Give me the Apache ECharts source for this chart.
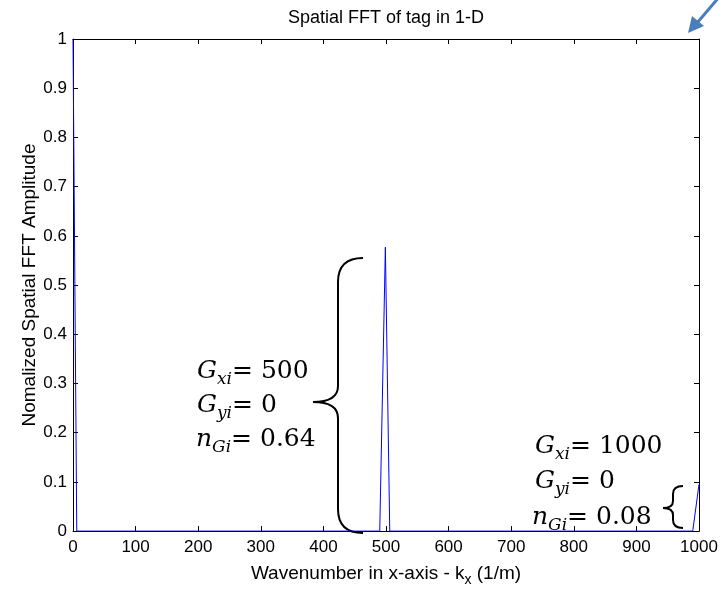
<!DOCTYPE html>
<html>
<head>
<meta charset="utf-8">
<script src="https://cdn.jsdelivr.net/npm/echarts@6/dist/echarts.min.js"></script>
<style>
  html, body { margin: 0; padding: 0; background: #fff; }
  #chart { width: 723px; height: 592px; }
</style>
</head>
<body>
<div id="chart"></div>
<script>
// samples of the spectrum
const kx = [0, 6, 490, 499, 506, 990, 1000];
const amp = [1, 0, 0, 0.577, 0, 0, 0.095];

// annotation values for the two peaks
const gxi = ['500', '1000'];
const gyi = ['0', '0'];
const ngi = ['0.64', '0.08'];

const sans = '"Liberation Sans", Arial, sans-serif';
const serif = '"DejaVu Serif", "Liberation Serif", serif';

const chart = echarts.init(document.getElementById('chart'), null, { renderer: 'canvas' });

// frame axis shared look (matlab style: ticks inside, all four sides)
function frameAxis(extra) {
  return Object.assign({
    type: 'value',
    axisLine: { show: true, onZero: false, lineStyle: { color: '#000', width: 1 } },
    axisTick: { show: true, inside: true, length: 5, lineStyle: { color: '#000', width: 1 } },
    axisLabel: { color: '#000', fontSize: 17, fontFamily: sans, formatter: v => String(v) },
    splitLine: { show: false }
  }, extra);
}

// rich text for one formula line
const rich = {
  g: { fontFamily: serif, fontStyle: 'italic', fontSize: 25, lineHeight: 34, color: '#000' },
  s: { fontFamily: serif, fontStyle: 'italic', fontSize: 17, lineHeight: 18, verticalAlign: 'bottom', color: '#000' },
  t: { fontFamily: serif, fontSize: 25, lineHeight: 34, color: '#000' }
};
function formula(x, y, sym, sub, val) {
  return {
    type: 'text', x: x, y: y, silent: true,
    style: {
      text: '{g|' + sym + '}{s|' + sub + '}{t|= ' + val + '}',
      rich: rich, verticalAlign: 'middle', align: 'left'
    }
  };
}
// curly brace "{" : tip at (tx, ty), vertical stroke at vx, ends at ex, from y0 to y1
function brace(tx, ty, vx, ex, y0, y1, r, rt) {
  const st = { stroke: '#000', lineWidth: 2, fill: null };
  const q = (x1, y1_, cx, cy, x2, y2) => ({
    type: 'bezierCurve', silent: true,
    shape: { x1: x1, y1: y1_, cpx1: cx, cpy1: cy, x2: x2, y2: y2 }, style: st
  });
  const l = (x1, y1_, x2, y2) => ({
    type: 'line', silent: true, shape: { x1: x1, y1: y1_, x2: x2, y2: y2 }, style: st
  });
  return {
    type: 'group', silent: true,
    children: [
      q(ex, y0, vx, y0, vx, y0 + r),
      l(vx, y0 + r, vx, ty - rt),
      q(vx, ty - rt, vx, ty, tx, ty),
      q(tx, ty, vx, ty, vx, ty + rt),
      l(vx, ty + rt, vx, y1 - r),
      q(vx, y1 - r, vx, y1, ex, y1)
    ]
  };
}

chart.setOption({
  animation: false,
  grid: { left: 73, right: 24, top: 39, bottom: 60 },
  xAxis: [
    frameAxis({
      position: 'bottom', min: 0, max: 1000, interval: 100,
      name: 'Wavenumber in x-axis - k{s|x} (1/m)',
      nameLocation: 'middle', nameGap: 22,
      nameTextStyle: {
        color: '#000', fontSize: 19, fontFamily: sans, lineHeight: 26,
        rich: { s: { fontSize: 14, fontFamily: sans, color: '#000', verticalAlign: 'bottom', lineHeight: 10 } }
      },
      axisLabel: { color: '#000', fontSize: 17, fontFamily: sans, margin: 8, formatter: v => String(v) }
    }),
    frameAxis({
      position: 'top', min: 0, max: 1000, interval: 100,
      name: 'Spatial FFT of tag in 1-D',
      nameLocation: 'middle', nameGap: 12,
      nameTextStyle: { color: '#000', fontSize: 18, fontFamily: sans },
      axisLabel: { show: false }
    })
  ],
  yAxis: [
    frameAxis({
      position: 'left', min: 0, max: 1, interval: 0.1,
      name: 'Nomalized Spatial FFT Amplitude',
      nameLocation: 'middle', nameGap: 34, nameMoveOverlap: false,
      nameTextStyle: { color: '#000', fontSize: 19, fontFamily: sans },
      axisLabel: { color: '#000', fontSize: 17, fontFamily: sans, margin: 6, formatter: v => String(v) }
    }),
    frameAxis({
      position: 'right', min: 0, max: 1, interval: 0.1,
      axisLabel: { show: false }
    })
  ],
  series: [{
    type: 'line',
    xAxisIndex: 0, yAxisIndex: 0,
    data: kx.map((k, i) => [k, amp[i]]),
    showSymbol: false,
    silent: true,
    clip: true,
    lineStyle: { color: '#0000ff', width: 1 },
    itemStyle: { color: '#0000ff' }
  }],
  graphic: [
    // big brace for the 500 peak
    brace(313, 402, 338, 363, 258, 533, 24, 16),
    formula(197, 371, 'G', 'xi', gxi[0]),
    formula(197, 405, 'G', 'yi', gyi[0]),
    formula(196, 439, 'n', 'Gi', ngi[0]),
    // small brace for the 1000 peak
    brace(663, 508, 673, 683, 486, 528, 8, 7),
    formula(535, 446, 'G', 'xi', gxi[1]),
    formula(535, 481, 'G', 'yi', gyi[1]),
    formula(532, 517, 'n', 'Gi', ngi[1]),
    // blue call-out arrow at top right
    {
      type: 'polyline', silent: true,
      shape: { points: [[720, -4], [697, 23]] },
      style: { stroke: '#4a7ebb', lineWidth: 3 }
    },
    {
      type: 'polygon', silent: true,
      shape: { points: [[688, 33], [692, 16], [704, 26]] },
      style: { fill: '#4a7ebb' }
    }
  ]
});
</script>
</body>
</html>
